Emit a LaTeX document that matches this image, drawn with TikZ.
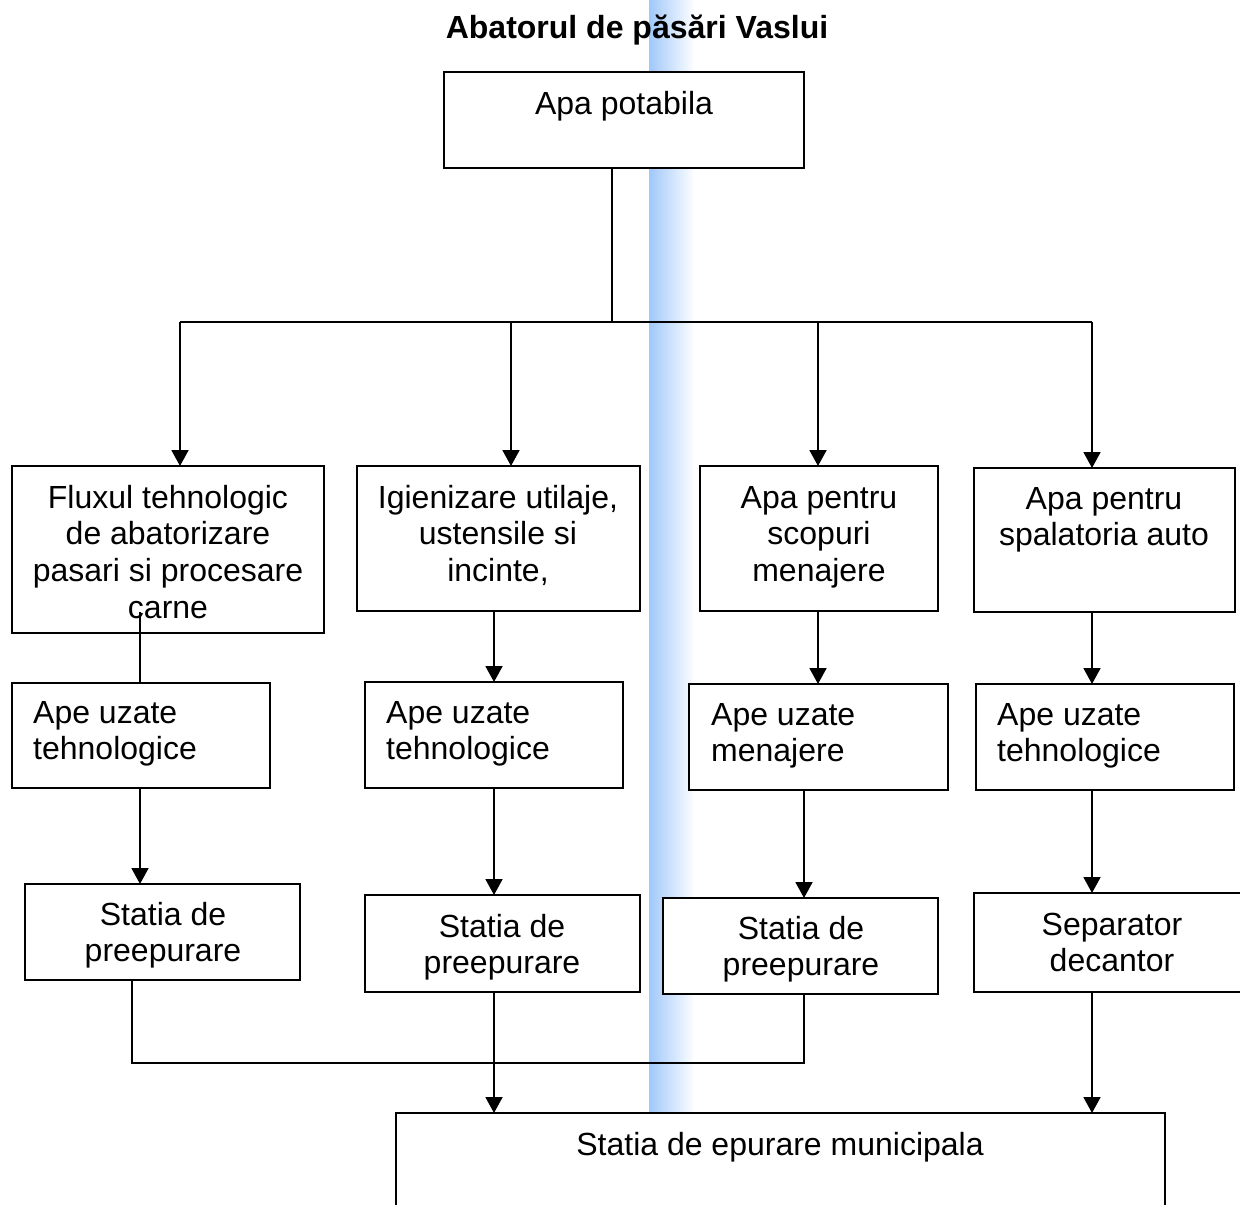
\documentclass[tikz,border=0pt]{standalone}
\usepackage{fontspec}
\setmainfont{Liberation Sans}
\usetikzlibrary{arrows.meta}
\definecolor{bandblue}{RGB}{160,200,250}
\definecolor{bandmid}{RGB}{190,217,251}
\newcommand\bodyfont{\fontsize{32}{36.7}\selectfont}
\begin{document}
\begin{tikzpicture}[x=1pt,y=-1pt,
  box/.style={draw, fill=white, line width=1.9pt, rectangle, inner sep=0pt, outer sep=0pt, anchor=north west},
  ctxt/.style={inner sep=0pt, align=center, anchor=north, font=\bodyfont},
  ltxt/.style={inner sep=0pt, align=left, anchor=north west, font=\bodyfont},
  wire/.style={line width=1.9pt},
  arr/.style={wire, -{Triangle[width=17pt,length=16pt]}}]
\useasboundingbox (0,0) rectangle (1240,1205);
\fill[white] (0,0) rectangle (1240,1205);

% vertical blue band in the background
\shade[left color=bandblue, middle color=bandmid, right color=white] (649,0) rectangle (695,1113);

% title
\node[inner sep=0pt, anchor=base, font=\bodyfont\bfseries] (title) at (637,38) {Abatorul de păsări Vaslui};

% boxes
\node[box, minimum width=360pt, minimum height=96pt]  (P)  at (444,72) {};
\node[box, minimum width=312pt, minimum height=167pt] (B1) at (12,466) {};
\node[box, minimum width=283pt, minimum height=145pt] (B2) at (357,466) {};
\node[box, minimum width=238pt, minimum height=145pt] (B3) at (700,466) {};
\node[box, minimum width=261pt, minimum height=144pt] (B4) at (974,468) {};
\node[box, minimum width=258pt, minimum height=105pt] (C1) at (12,683) {};
\node[box, minimum width=258pt, minimum height=106pt] (C2) at (365,682) {};
\node[box, minimum width=259pt, minimum height=106pt] (C3) at (689,684) {};
\node[box, minimum width=258pt, minimum height=106pt] (C4) at (976,684) {};
\node[box, minimum width=275pt, minimum height=96pt]  (D1) at (25,884) {};
\node[box, minimum width=275pt, minimum height=97pt]  (D2) at (365,895) {};
\node[box, minimum width=275pt, minimum height=96pt]  (D3) at (663,898) {};
\node[box, minimum width=290pt, minimum height=99pt]  (D4) at (974,893) {};
\node[box, minimum width=769pt, minimum height=150pt] (E)  at (396,1113) {};

% box texts
\node[ctxt] (Pt)  at (624,88.3)  {\strut Apa potabila};
\node[ctxt] (B1t) at (168,482.3) {\strut Fluxul tehnologic\\de abatorizare\\pasari si procesare\\carne};
\node[ctxt] (B2t) at (498,482.3) {\strut Igienizare utilaje,\\ustensile si\\incinte,};
\node[ctxt] (B3t) at (819,482.3) {\strut Apa pentru\\scopuri\\menajere};
\node[ctxt] (B4t) at (1104,483.3) {\strut Apa pentru\\spalatoria auto};
\node[ltxt] (C1t) at (33,697.3)  {\strut Ape uzate\\tehnologice};
\node[ltxt] (C2t) at (386,697.3) {\strut Ape uzate\\tehnologice};
\node[ltxt] (C3t) at (711,699.3) {\strut Ape uzate\\menajere};
\node[ltxt] (C4t) at (997,699.3) {\strut Ape uzate\\tehnologice};
\node[ctxt] (D1t) at (163,899.3) {\strut Statia de\\preepurare};
\node[ctxt] (D2t) at (502,911.3) {\strut Statia de\\preepurare};
\node[ctxt] (D3t) at (801,913.3) {\strut Statia de\\preepurare};
\node[ctxt] (D4t) at (1112,909.3) {\strut Separator\\decantor};
\node[ctxt] (Et)  at (780,1129.3) {\strut Statia de epurare municipala};

% distribution of drinking water
\coordinate (hub) at (612,322);
\coordinate (bl)  at (180,322);
\coordinate (br)  at (1092,322);
\coordinate (k2)  at (511,322);
\coordinate (k3)  at (818,322);
\draw[wire] (P.south -| hub) -- (hub);
\draw[wire] (bl) -- (br);
\draw[arr] (bl) -- (B1.north -| bl);
\draw[arr] (k2) -- (B2.north -| k2);
\draw[arr] (k3) -- (B3.north -| k3);
\draw[arr] (br) -- (B4.north -| br);

% columns of the lower connectors
\coordinate (xa) at (140,612);
\coordinate (xb) at (494,0);
\coordinate (xc) at (818,0);
\coordinate (xd) at (1092,0);
\coordinate (xe) at (804,0);
\coordinate (xf) at (132,0);

% uses -> waste water
\draw[wire] (xa) -- (C1.north -| xa);
\draw[arr] (B2.south -| xb) -- (C2.north -| xb);
\draw[arr] (B3.south -| xc) -- (C3.north -| xc);
\draw[arr] (B4.south -| xd) -- (C4.north -| xd);

% waste water -> pre-treatment
\draw[arr] (C1.south -| xa) -- (D1.north -| xa);
\draw[arr] (C2.south -| xb) -- (D2.north -| xb);
\draw[arr] (C3.south -| xe) -- (D3.north -| xe);
\draw[arr] (C4.south -| xd) -- (D4.north -| xd);

% pre-treatment -> municipal plant
\coordinate (jl) at (132,1063);
\coordinate (jr) at (804,1063);
\draw[wire] (D1.south -| xf) -- (jl) -- (jr) -- (D3.south -| xe);
\draw[arr] (D2.south -| xb) -- (E.north -| xb);
\draw[arr] (D4.south -| xd) -- (E.north -| xd);
\end{tikzpicture}
\end{document}
